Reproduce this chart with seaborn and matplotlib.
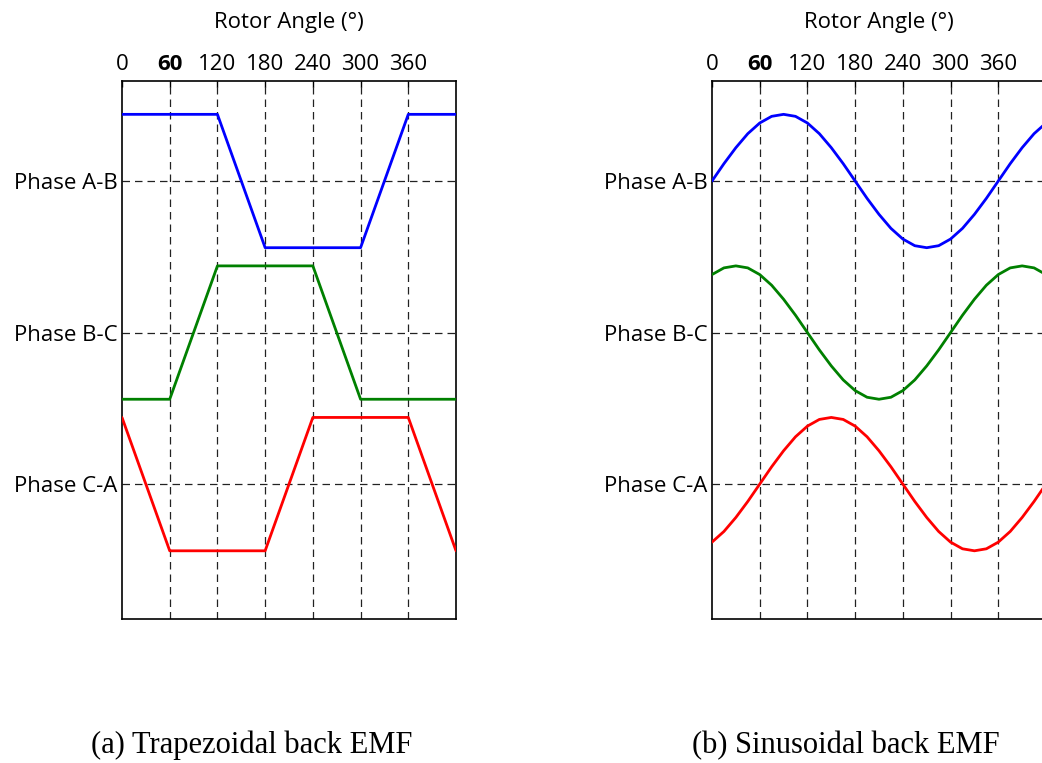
import matplotlib
matplotlib.use('Agg')
import matplotlib.pyplot as plt
import pandas as pd
import seaborn as sns

sns.set_theme(style='white')
plt.rcParams['font.family'] = ['Open Sans', 'DejaVu Sans']
plt.rcParams['text.color'] = 'black'
plt.rcParams['axes.labelcolor'] = 'black'

# данные: углы ротора и нормированная ЭДС (-1..1) для каждой фазы
trap_angle = [0, 60, 120, 180, 240, 300, 360, 420]
trap_ab = [1, 1, 1, -1, -1, -1, 1, 1]
trap_bc = [-1, -1, 1, 1, 1, -1, -1, -1]
trap_ca = [1, -1, -1, -1, 1, 1, 1, -1]

sin_angle = [0, 15, 30, 45, 60, 75, 90, 105, 120, 135, 150, 165, 180, 195, 210,
             225, 240, 255, 270, 285, 300, 315, 330, 345, 360, 375, 390, 405, 420]
sin_ab = [0, .26, .5, .71, .87, .97, 1, .97, .87, .71, .5, .26, 0, -.26, -.5,
          -.71, -.87, -.97, -1, -.97, -.87, -.71, -.5, -.26, 0, .26, .5, .71, .87]
sin_bc = [.87, .97, 1, .97, .87, .71, .5, .26, 0, -.26, -.5, -.71, -.87, -.97, -1,
          -.97, -.87, -.71, -.5, -.26, 0, .26, .5, .71, .87, .97, 1, .97, .87]
sin_ca = [-.87, -.71, -.5, -.26, 0, .26, .5, .71, .87, .97, 1, .97, .87, .71, .5,
          .26, 0, -.26, -.5, -.71, -.87, -.97, -1, -.97, -.87, -.71, -.5, -.26, 0]

phase_labels = ['Phase A-B', 'Phase B-C', 'Phase C-A']
phase_colors = ['#0000ff', '#008000', '#ff0000']
angle_ticks = [0, 60, 120, 180, 240, 300, 360]
captions = ['(a) Trapezoidal back EMF', '(b) Sinusoidal back EMF']

levels = [3, 2, 1]
amp = 0.44

W, H = 1042, 763
fig = plt.figure(figsize=(W / 100, H / 100), dpi=100)
ax_left = fig.add_axes([122 / W, 144 / H, 334 / W, 538 / H])
ax_right = fig.add_axes([712 / W, 144 / H, 334 / W, 538 / H])

panels = [
    (ax_left, trap_angle, [trap_ab, trap_bc, trap_ca]),
    (ax_right, sin_angle, [sin_ab, sin_bc, sin_ca]),
]

for ax, angle, series in panels:
    for vals, lev, col in zip(series, levels, phase_colors):
        df = pd.DataFrame({'angle': angle, 'emf': [lev + amp * v for v in vals]})
        sns.lineplot(data=df, x='angle', y='emf', color=col, linewidth=2.0,
                     ax=ax, zorder=3)

    # пунктирная сетка
    for xv in angle_ticks[1:]:
        ax.axvline(xv, color='#222222', linewidth=0.9, dashes=(6, 4), zorder=1)
    for lev in levels:
        ax.axhline(lev, color='#222222', linewidth=0.9, dashes=(6, 4), zorder=1)

    ax.set_xlim(0, 420)
    ax.set_ylim(0.11, 3.66)
    ax.xaxis.tick_top()
    ax.xaxis.set_label_position('top')
    ax.set_xticks(angle_ticks, [str(a) for a in angle_ticks])
    ax.set_yticks(levels, phase_labels)
    ax.get_xticklabels()[1].set_fontweight('bold')
    ax.tick_params(axis='both', direction='in', length=4, width=1,
                   labelsize=16, colors='black')
    ax.tick_params(axis='x', pad=4)
    ax.tick_params(axis='y', pad=3)
    ax.set_xlabel('Rotor Angle (°)', fontsize=16, labelpad=19, color='black')
    ax.set_ylabel('')
    for sp in ax.spines.values():
        sp.set_visible(True)
        sp.set_color('black')
        sp.set_linewidth(1.2)

fig.text(252 / W, 1 - 753 / H, captions[0], ha='center', va='baseline',
         fontsize=22, family='Liberation Serif', color='black')
fig.text(846 / W, 1 - 753 / H, captions[1], ha='center', va='baseline',
         fontsize=22, family='Liberation Serif', color='black')

fig.savefig('out.png', dpi=100, facecolor='white')
